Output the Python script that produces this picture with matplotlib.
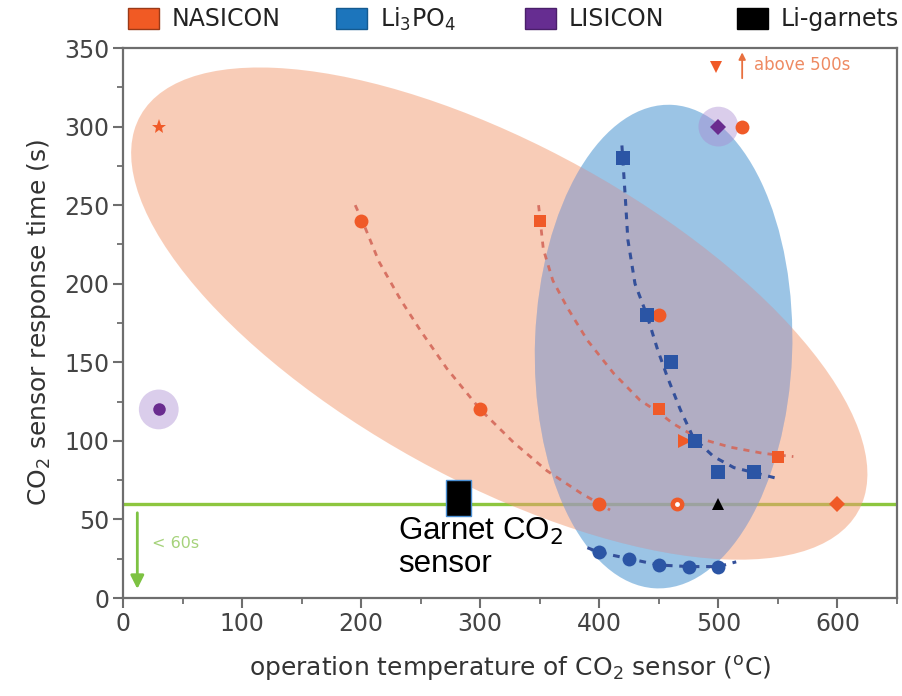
import matplotlib
matplotlib.use('Agg')
import matplotlib.pyplot as plt
from matplotlib.patches import Ellipse, Patch, Rectangle
from matplotlib.ticker import MultipleLocator

plt.rcParams['font.family'] = ['DejaVu Sans']

# ---------------- data ----------------
nasicon_circle_x = [200, 300, 400, 450, 520]
nasicon_circle_y = [240, 120, 60, 180, 300]
nasicon_spot_x = [465]
nasicon_spot_y = [60]
nasicon_square_x = [350, 450, 550]
nasicon_square_y = [240, 120, 90]
nasicon_star_x = [30]
nasicon_star_y = [300]
nasicon_tri_x = [472]
nasicon_tri_y = [100]
nasicon_diamond_x = [600]
nasicon_diamond_y = [60]
nasicon_above_x = [498]
nasicon_above_y = [338]

li3po4_square_x = [420, 440, 460, 480, 500, 530]
li3po4_square_y = [280, 180, 150, 100, 80, 80]
li3po4_circle_x = [400, 425, 450, 475, 500]
li3po4_circle_y = [29, 25, 21, 20, 20]

lisicon_diamond_x = [500]
lisicon_diamond_y = [300]
lisicon_circle_x = [30]
lisicon_circle_y = [120]

garnet_tri_x = [500]
garnet_tri_y = [60]

# dashed guide curves
curve1_x = [195, 201, 215, 233, 250, 272, 300, 328, 356, 384, 409]
curve1_y = [250, 240, 214, 190, 170, 146, 120, 99, 81, 67, 56]
curve2_x = [349, 353, 361, 373, 390, 412, 434, 450, 462, 482, 510, 538, 563]
curve2_y = [250, 222, 202, 185, 164, 143, 126, 118, 111, 102, 96, 92, 90]
curve3_x = [419, 422, 424, 430, 440, 449, 457, 468, 479, 496, 513, 529, 550]
curve3_y = [288, 253, 228, 200, 180, 158, 141, 120, 102, 90, 83, 80, 76]
curve4_x = [390, 400, 425, 450, 475, 500, 515]
curve4_y = [32, 29, 25, 21, 20, 20, 23]

threshold = 60

legend_labels = ['NASICON', 'Li$_3$PO$_4$', 'LISICON', 'Li-garnets']
legend_colors = ['#F15A24', '#1C75BC', '#662D91', '#000000']
legend_edges = ['#9A3A18', '#145A90', '#4A1F6A', '#000000']
legend_x = [0.142, 0.3726, 0.5821, 0.8172]

# ---------------- colours ----------------
ORANGE = '#F05A28'
BLUE = '#2B55A5'
PURPLE = '#6A2C8F'
GREEN = '#8DC63F'

fig = plt.figure(figsize=(9.02, 6.96), dpi=100)
ax = fig.add_axes([0.1364, 0.1408, 0.858, 0.7902])
ax.set_xlim(0, 650)
ax.set_ylim(0, 350)

# threshold line
ax.axhline(threshold, color=GREEN, lw=2.4, zorder=1)

# regions
ORANGE_REGION = dict(xy=(316, 181), width=656, height=224, angle=-20.8)
BLUE_REGION = dict(xy=(454, 160), width=216, height=308, angle=-3)

orange_region = Ellipse(**ORANGE_REGION, facecolor='#F39B71',
                        alpha=0.5, edgecolor='none', zorder=2)
ax.add_patch(orange_region)
blue_region = Ellipse(**BLUE_REGION, facecolor='#398BCD',
                      alpha=0.5, edgecolor='none', zorder=3)
ax.add_patch(blue_region)
overlap = Ellipse(**ORANGE_REGION, facecolor='#FFB4C8',
                  alpha=0.25, edgecolor='none', zorder=3.5)
ax.add_patch(overlap)
overlap.set_clip_path(blue_region)

# LISICON halos
ax.scatter(lisicon_diamond_x + lisicon_circle_x, lisicon_diamond_y + lisicon_circle_y,
           s=820, color='#A888D0', alpha=0.42, edgecolors='none', zorder=4)

# dashed curves
ax.plot(curve1_x, curve1_y, color='#D4685A', lw=2, dashes=(2.2, 2.2), zorder=5, alpha=0.9)
ax.plot(curve2_x, curve2_y, color='#D4685A', lw=2, dashes=(2.2, 2.2), zorder=5, alpha=0.9)
ax.plot(curve3_x, curve3_y, color='#34509A', lw=2.2, dashes=(2.2, 2.2), zorder=5)
ax.plot(curve4_x, curve4_y, color='#34509A', lw=2.2, dashes=(2.2, 2.2), zorder=5)

# markers
mk = dict(linestyle='none', zorder=6, markeredgewidth=0)
ax.plot(nasicon_circle_x, nasicon_circle_y, marker='o', ms=10, color=ORANGE, **mk)
ax.plot(nasicon_spot_x, nasicon_spot_y, marker='o', ms=10, color=ORANGE, **mk)
ax.plot(nasicon_spot_x, nasicon_spot_y, marker='o', ms=3.5, color='white', linestyle='none',
        zorder=6.5, markeredgewidth=0)
ax.plot(nasicon_square_x, nasicon_square_y, marker='s', ms=9, color=ORANGE, **mk)
ax.plot(nasicon_star_x, nasicon_star_y, marker='*', ms=11, color=ORANGE, **mk)
ax.plot(nasicon_tri_x, nasicon_tri_y, marker='>', ms=10, color=ORANGE, **mk)
ax.plot(nasicon_diamond_x, nasicon_diamond_y, marker='D', ms=8, color=ORANGE, **mk)
ax.plot(nasicon_above_x, nasicon_above_y, marker='v', ms=9, color=ORANGE, **mk)

ax.plot(li3po4_square_x, li3po4_square_y, marker='s', ms=9.5, color=BLUE, **mk)
ax.plot(li3po4_circle_x, li3po4_circle_y, marker='o', ms=10, color=BLUE, **mk)

ax.plot(lisicon_diamond_x, lisicon_diamond_y, marker='D', ms=8, color=PURPLE, **mk)
ax.plot(lisicon_circle_x, lisicon_circle_y, marker='o', ms=9, color=PURPLE, **mk)

ax.plot(garnet_tri_x, garnet_tri_y, marker='^', ms=9, color='black', **mk)

# "above 500s" note
ax.annotate('', xy=(520, 349), xytext=(520, 329),
            arrowprops=dict(arrowstyle='-|>', color='#E8703F', lw=1.3, mutation_scale=10),
            zorder=7)
ax.text(530, 339, 'above 500s', color='#EE8A62', fontsize=12, va='center', zorder=7)

# "< 60s" note
ax.annotate('', xy=(12, 4), xytext=(12, 56),
            arrowprops=dict(arrowstyle='-|>', color='#7DC242', lw=2, mutation_scale=20),
            zorder=7)
ax.text(24, 35, '< 60s', color='#A5D27A', fontsize=11.5, va='center', zorder=7)

# Garnet sensor box + label
ax.add_patch(Rectangle((271, 52), 21, 23, facecolor='black', edgecolor='#4A8FD4',
                       lw=1, zorder=8))
ax.text(231, 52, 'Garnet CO$_2$\nsensor', fontsize=22.5, family=['Liberation Sans', 'DejaVu Sans'],
        va='top', ha='left', color='black', linespacing=1.05, zorder=8)

# axes styling
for s in ax.spines.values():
    s.set_color('#6E6E6E')
    s.set_linewidth(1.6)
ax.xaxis.set_major_locator(MultipleLocator(100))
ax.xaxis.set_minor_locator(MultipleLocator(50))
ax.yaxis.set_major_locator(MultipleLocator(50))
ax.yaxis.set_minor_locator(MultipleLocator(25))
ax.tick_params(which='major', length=7, width=1.5, color='#6E6E6E', labelsize=17,
               labelcolor='#444444', pad=3)
ax.tick_params(which='minor', length=4, width=1.3, color='#6E6E6E')

ax.set_xlabel('operation temperature of CO$_2$ sensor ($^{\\mathrm{o}}$C)', fontsize=18,
              color='#333333', labelpad=13)
ax.set_ylabel('CO$_2$ sensor response time (s)', fontsize=18, color='#333333', labelpad=8)

# legend
for lab, fc, ec, lx in zip(legend_labels, legend_colors, legend_edges, legend_x):
    h = Patch(facecolor=fc, edgecolor=ec, linewidth=1)
    fig.legend(handles=[h], labels=[lab], loc='center left', bbox_to_anchor=(lx, 0.972),
               frameon=False, fontsize=17, borderpad=0, borderaxespad=0,
               handlelength=1.3, handleheight=1.0, handletextpad=0.55, labelcolor='#222222')

fig.savefig('out.png', dpi=100)
